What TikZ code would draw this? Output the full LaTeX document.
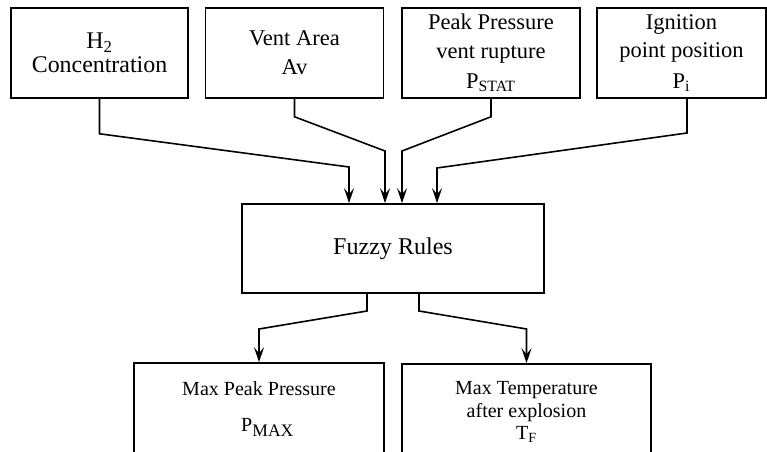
\documentclass[tikz,border=0pt]{standalone}
\usepackage{fontspec}
\setmainfont{Liberation Serif}
\usetikzlibrary{arrows.meta}

\tikzset{
    inbox/.style={draw, line width=0.9pt, align=center, inner sep=0pt,
        font=\fontsize{12.8}{16.3}\selectfont},
    outbox/.style={draw, line width=0.9pt, align=center, inner sep=0pt,
        font=\fontsize{11.4}{13}\selectfont},
    flow/.style={line width=0.9pt, -{Stealth[length=0.3cm,width=0.2cm,inset=0.12cm]}}
}

\begin{document}
\begin{tikzpicture}[x=0.02cm, y=-0.02cm]
    \useasboundingbox (0,0) rectangle (767,452);
    \clip (0,0) rectangle (767,452);

    % Input boxes
    \node [inbox, minimum width=3.54cm, minimum height=1.8cm,
        font=\fontsize{13.6}{13.8}\selectfont] (conc) at (99.5,53)
        {H\textsubscript{2}\\Concentration};
    \node [inbox, minimum width=3.56cm, minimum height=1.8cm] (vent) at (294.5,53)
        {Vent Area\\Av};
    \node [inbox, minimum width=3.56cm, minimum height=1.8cm] (pstat) at (491,53)
        {Peak Pressure\\vent rupture\\[1pt]P\textsubscript{STAT}};
    \node [inbox, minimum width=3.38cm, minimum height=1.8cm] (ign) at (681.5,53)
        {Ignition\\point position\\[1pt]P\textsubscript{i}};

    % Rule block
    \node [inbox, minimum width=6.04cm, minimum height=1.78cm,
        font=\fontsize{13.7}{16}\selectfont] (rules) at (393,248.5) {Fuzzy Rules};

    % Output boxes (cut at the lower edge)
    \node [outbox, minimum width=5cm, minimum height=1.84cm] (pmax) at (259,409)
        {Max Peak Pressure\\[7pt]\hspace*{0.35cm}P\textsubscript{\normalsize MAX}};
    \node [outbox, minimum width=4.98cm, minimum height=1.92cm] (tf) at (526.5,412)
        {Max Temperature\\after explosion\\T\textsubscript{F}};

    % Bend points
    \coordinate (c1) at (349,167);
    \coordinate (c2) at (385,151);
    \coordinate (c3) at (402,151);
    \coordinate (i4) at (687,133);
    \coordinate (c4) at (437,168);
    \coordinate (o1) at (367,311);
    \coordinate (d1) at (259,329);
    \coordinate (o2) at (419,311);
    \coordinate (d2) at (526.5,329);

    % Inputs into the rules
    \draw [flow] (conc.south) -- ++(0,35) -- (c1) -- (c1 |- rules.north);
    \draw [flow] (vent.south) -- ++(0,18) -- (c2) -- (c2 |- rules.north);
    \draw [flow] (pstat.south) -- ++(0,18) -- (c3) -- (c3 |- rules.north);
    \draw [flow] (i4 |- ign.south) -- (i4) -- (c4) -- (c4 |- rules.north);

    % Rules to outputs
    \draw [flow] (o1 |- rules.south) -- (o1) -- (d1) -- (pmax.north);
    \draw [flow] (o2 |- rules.south) -- (o2) -- (d2) -- (tf.north);
\end{tikzpicture}
\end{document}
